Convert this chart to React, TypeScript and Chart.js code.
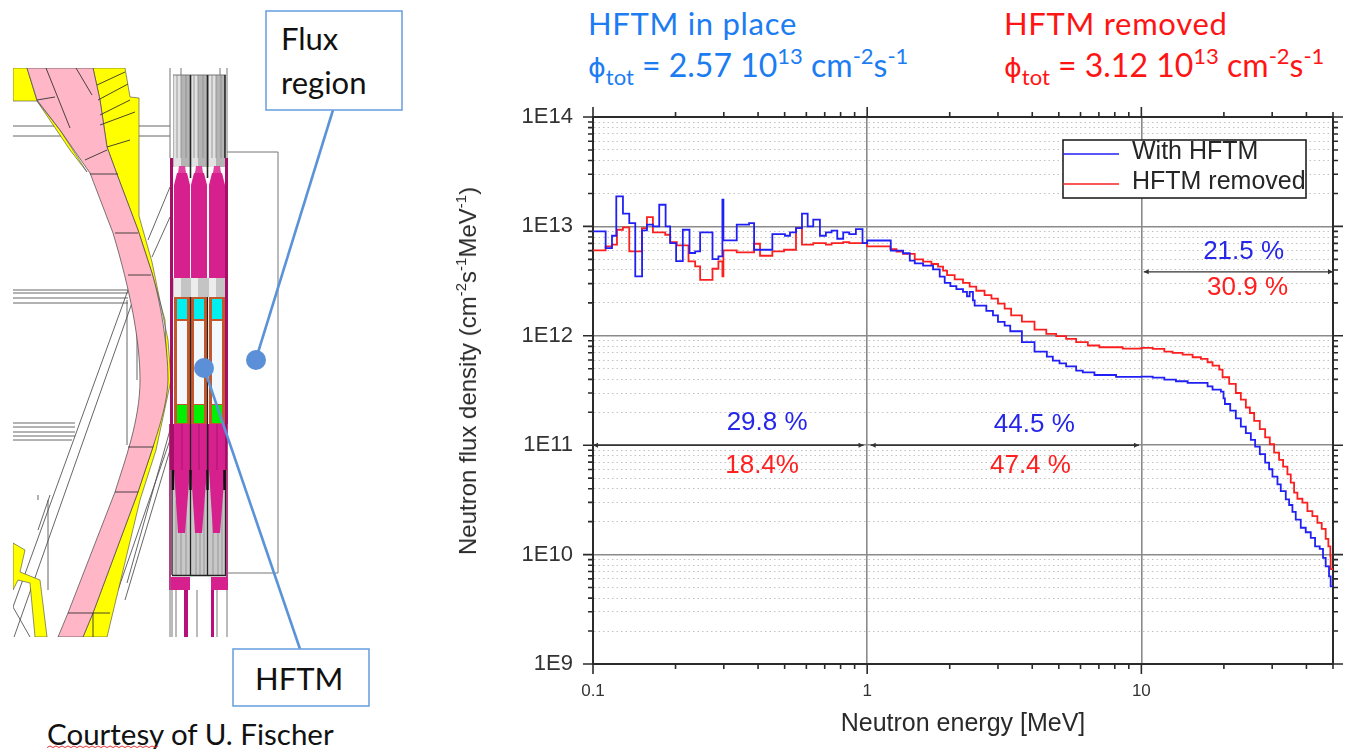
import React, { useEffect, useRef } from "react";
import { Chart, registerables } from "chart.js";

Chart.register(...registerables);

const blueEnergy = [0.1, 0.1112, 0.1173, 0.1216, 0.1286, 0.1356, 0.1426, 0.151, 0.1573, 0.1654, 0.1744, 0.184, 0.1912, 0.201, 0.2126, 0.2249, 0.2358, 0.2459, 0.2728, 0.2867, 0.2965, 0.299, 0.3344, 0.3709, 0.3868, 0.451, 0.5014, 0.523, 0.55, 0.5783, 0.6066, 0.6358, 0.6725, 0.7071, 0.7416, 0.7777, 0.8177, 0.86, 0.9094, 0.9616, 1.0, 1.219, 1.352, 1.43, 1.491, 1.599, 1.739, 1.839, 1.918, 2.011, 2.115, 2.236, 2.312, 2.365, 2.431, 2.466, 2.72, 2.876, 2.999, 3.172, 3.325, 3.667, 4.077, 4.522, 4.755, 5.029, 5.317, 5.783, 6.115, 6.744, 8.087, 10.0, 11.0, 12.13, 13.37, 14.75, 17.44, 18.18, 19.5, 19.94, 20.17, 21.09, 22.11, 23.06, 24.05, 25.08, 26.0, 27.04, 28.28, 29.24, 30.07, 31.36, 32.25, 33.63, 34.59, 35.56, 36.57, 38.14, 39.77, 41.48, 43.01, 44.72, 45.98, 47.02, 48.36, 49.03, 50];
const blueFlux = [9.0e12, 6.34e12, 8.21e12, 1.881e13, 1.306e13, 1.073e13, 3.49e12, 9.19e12, 1.036e13, 1.0e13, 1.578e13, 1.0e13, 7.04e12, 4.82e12, 9.32e12, 5.71e12, 5.9e12, 8.81e12, 5.02e12, 5.32e12, 1.753e13, 7.45e12, 1.036e13, 1.073e13, 6.12e12, 8.51e12, 8.21e12, 8.81e12, 9.65e12, 1.306e13, 1.0e13, 1.151e13, 8.21e12, 8.81e12, 9.13e12, 7.71e12, 8.81e12, 8.51e12, 9.45e12, 7.04e12, 7.43e12, 6.01e12, 5.68e12, 4.86e12, 4.6e12, 4.38e12, 4.05e12, 3.47e12, 3.05e12, 2.84e12, 2.67e12, 2.52e12, 2.3e12, 2.52e12, 2.11e12, 1.89e12, 1.69e12, 1.54e12, 1.34e12, 1.24e12, 1.1e12, 8.74e11, 7.17e11, 6.45e11, 5.93e11, 5.6e11, 5.26e11, 4.8e11, 4.63e11, 4.38e11, 4.22e11, 4.24e11, 4.15e11, 3.98e11, 3.84e11, 3.71e11, 3.45e11, 3.22e11, 3.09e11, 2.68e11, 2.38e11, 2.07e11, 1.76e11, 1.48e11, 1.29e11, 1.12e11, 9.72e10, 8.27e10, 6.93e10, 6.03e10, 5.16e10, 4.39e10, 3.81e10, 3.2e10, 2.84e10, 2.46e10, 2.09e10, 1.76e10, 1.6e10, 1.42e10, 1.19e10, 1.13e10, 9.32e9, 7.82e9, 6.33e9, 5.12e9, 5.12e9];

const redEnergy = [0.1, 0.1112, 0.1173, 0.1223, 0.1286, 0.1356, 0.1508, 0.1573, 0.1654, 0.1834, 0.1912, 0.2022, 0.223, 0.2358, 0.2459, 0.2728, 0.2867, 0.2965, 0.299, 0.3344, 0.3868, 0.4066, 0.451, 0.4973, 0.55, 0.5783, 0.6358, 0.7071, 0.7416, 0.8177, 0.86, 1.0, 1.216, 1.279, 1.352, 1.491, 1.599, 1.715, 1.813, 1.891, 1.956, 2.085, 2.236, 2.365, 2.5, 2.68, 2.84, 2.999, 3.172, 3.35, 3.667, 4.077, 4.5, 4.89, 5.317, 5.783, 6.38, 7.03, 8.55, 10.0, 11.0, 12.13, 13.0, 14.14, 15.38, 16.49, 17.44, 18.18, 19.23, 19.78, 20.91, 22.11, 23.06, 24.05, 24.87, 25.79, 27.04, 28.28, 29.41, 30.49, 31.79, 32.88, 34.1, 35.07, 36.06, 37.08, 38.67, 40.33, 42.05, 43.85, 45.48, 47.02, 48.09, 48.9, 49.03, 50];
const redFlux = [6.03e12, 6.56e12, 6.8e12, 9.32e12, 9.79e12, 5.9e12, 9.65e12, 1.217e13, 8.81e12, 8.39e12, 7.19e12, 6.7e12, 4.79e12, 4.31e12, 3.25e12, 4.1e12, 4.79e12, 3.49e12, 6.03e12, 5.78e12, 6.94e12, 5.39e12, 5.9e12, 6.12e12, 9.65e12, 6.8e12, 7.04e12, 6.8e12, 7.04e12, 7.19e12, 7.04e12, 6.56e12, 6.19e12, 5.89e12, 5.6e12, 5.0e12, 4.76e12, 4.53e12, 4.28e12, 3.94e12, 3.59e12, 3.28e12, 3.05e12, 2.81e12, 2.58e12, 2.35e12, 2.19e12, 1.97e12, 1.77e12, 1.54e12, 1.35e12, 1.14e12, 1.04e12, 9.93e11, 9.38e11, 8.74e11, 8.15e11, 7.86e11, 7.64e11, 7.76e11, 7.6e11, 7.18e11, 6.98e11, 6.74e11, 6.37e11, 6.15e11, 5.73e11, 5.34e11, 4.91e11, 4.18e11, 3.63e11, 3.0e11, 2.61e11, 2.21e11, 1.97e11, 1.67e11, 1.4e11, 1.18e11, 1.02e11, 8.57e10, 7.33e10, 6.37e10, 5.42e10, 4.55e10, 3.68e10, 3.24e10, 2.98e10, 2.5e10, 2.25e10, 1.95e10, 1.72e10, 1.39e10, 1.19e10, 9.65e9, 7.38e9, 7.38e9];

const xMajorTicks = [0.1, 1, 10];
const xMinorTicks = [0.2, 0.3, 0.4, 0.5, 0.6, 0.7, 0.8, 0.9, 2, 3, 4, 5, 6, 7, 8, 9, 20, 30, 40, 50];
const yMajorTicks = [1e9, 1e10, 1e11, 1e12, 1e13, 1e14];
const yMajorLabels = ["1E9", "1E10", "1E11", "1E12", "1E13", "1E14"];
const yMinorFactors = [2, 3, 4, 5, 6, 7, 8, 9];
const seriesNames = ["With HFTM", "HFTM removed"];

const percentNotes = [
  { text: "29.8 %", color: "#2626e8", energy: 0.4315, flux: 1.6e11 },
  { text: "18.4%", color: "#ff2020", energy: 0.4137, flux: 6.5e10 },
  { text: "44.5 %", color: "#2626e8", energy: 4.07, flux: 1.55e11 },
  { text: "47.4 %", color: "#ff2020", energy: 3.94, flux: 6.5e10 },
  { text: "21.5 %", color: "#2626e8", energy: 23.6, flux: 5.85e12 },
  { text: "30.9 %", color: "#ff2020", energy: 24.4, flux: 2.74e12 },
];
const rangeArrows = [
  { from: 0.1, to: 0.97, flux: 1e11 },
  { from: 1.03, to: 9.8, flux: 1e11 },
  { from: 10.2, to: 50, flux: 3.84e12 },
];

const SANS = '"Liberation Sans", Arial, sans-serif';
const CALIBRI = 'Lato, "Open Sans", sans-serif';

const minorY = yMajorTicks.slice(0, -1).flatMap((d) => yMinorFactors.map((f) => f * d));
const xTickList = () =>
  [...xMajorTicks.map((value) => ({ value, major: true })), ...xMinorTicks.map((value) => ({ value, major: false }))].sort((a, b) => a.value - b.value);
const yTickList = () =>
  [...yMajorTicks.map((value) => ({ value, major: true })), ...minorY.map((value) => ({ value, major: false }))].sort((a, b) => a.value - b.value);

const marksPlugin = {
  id: "marks",
  afterDatasetsDraw(chart: any) {
    const { ctx, scales, chartArea } = chart;
    const { x, y } = scales;
    ctx.save();
    ctx.strokeStyle = "#2b2b2b";
    ctx.lineWidth = 1.6;
    ctx.beginPath();
    for (const t of x.ticks) {
      const px = x.getPixelForValue(t.value);
      const len = t.major ? 10 : 5;
      ctx.moveTo(px, chartArea.bottom);
      ctx.lineTo(px, chartArea.bottom + len);
      ctx.moveTo(px, chartArea.top);
      ctx.lineTo(px, chartArea.top - len);
    }
    for (const t of y.ticks) {
      const py = y.getPixelForValue(t.value);
      const len = t.major ? 10 : 5;
      ctx.moveTo(chartArea.left, py);
      ctx.lineTo(chartArea.left - len, py);
      ctx.moveTo(chartArea.right, py);
      ctx.lineTo(chartArea.right + len, py);
    }
    ctx.stroke();

    ctx.strokeStyle = "#333";
    ctx.fillStyle = "#333";
    ctx.lineWidth = 1.4;
    for (const a of rangeArrows) {
      const x0 = x.getPixelForValue(a.from);
      const x1 = x.getPixelForValue(a.to);
      const py = y.getPixelForValue(a.flux);
      ctx.beginPath();
      ctx.moveTo(x0, py);
      ctx.lineTo(x1, py);
      ctx.stroke();
      ctx.beginPath();
      ctx.moveTo(x0, py);
      ctx.lineTo(x0 + 5, py - 2.5);
      ctx.lineTo(x0 + 5, py + 2.5);
      ctx.closePath();
      ctx.moveTo(x1, py);
      ctx.lineTo(x1 - 5, py - 2.5);
      ctx.lineTo(x1 - 5, py + 2.5);
      ctx.closePath();
      ctx.fill();
    }

    ctx.font = `26px ${SANS}`;
    ctx.textAlign = "center";
    ctx.textBaseline = "middle";
    for (const n of percentNotes) {
      ctx.fillStyle = n.color;
      ctx.fillText(n.text, x.getPixelForValue(n.energy), y.getPixelForValue(n.flux));
    }

    const bx = chartArea.right - 270;
    const by = chartArea.top + 23;
    const bw = 243;
    const bh = 58;
    ctx.fillStyle = "#fff";
    ctx.fillRect(bx, by, bw, bh);
    ctx.strokeStyle = "#222";
    ctx.lineWidth = 1.6;
    ctx.strokeRect(bx, by, bw, bh);
    ctx.font = `25px ${SANS}`;
    ctx.textAlign = "left";
    chart.data.datasets.forEach((ds: any, i: number) => {
      const py = by + 14 + i * 30;
      ctx.strokeStyle = ds.borderColor;
      ctx.beginPath();
      ctx.moveTo(bx, py);
      ctx.lineTo(bx + 56, py);
      ctx.stroke();
      ctx.fillStyle = "#262626";
      ctx.fillText(ds.label, bx + 69, py - 2);
    });
    ctx.restore();
  },
};

const PINK_PATH =
  "M27 68 H93 L100 100 L107 147 L118 177 L138 230 L152 273 C160 300 168 345 168 380 C167 410 155 440 138 492 L93 613 L83 637 H58 L68 613 L115 492 C125 460 140 420 140 380 C140 340 130 290 113 233 L90 173 L60 130 L37 100 Z";

function Diagram() {
  const lineC = "#555";
  const cellXs = [174, 191, 209];
  return (
    <svg width={420} height={749} style={{ position: "absolute", left: 0, top: 0 }}>
      <defs>
        <clipPath id="cad"><rect x={13} y={68} width={230} height={569} /></clipPath>
      </defs>
      <g clipPath="url(#cad)">
        <g stroke={lineC} strokeWidth={0.9} fill="none">
          <path d="M13 126H170M13 136H170M13 290H128M13 293H128M13 298H128M13 303H128" />
          <path d="M13 423H75M13 427H75M13 432H75M13 436H75M13 440H72" />
          <path d="M127 300V445M137 300V380M148 240L170 187M152 257L170 217" />
          <path d="M128 290L13 607M133 300L13 640M170 430L127 583M170 440L118 590M170 450L125 600" />
          <path d="M38 495L38 500M38 530L50 495M48 500V590M13 607L30 637" />
        </g>
        <polygon fill="#ffff00" stroke="#444" strokeWidth={0.6} points="13,68 27,68 37,101 13,101" />
        <polygon fill="#ffff00" stroke="#444" strokeWidth={0.6} points="37,101 60,130 87,172 70,150" />
        <polygon fill="#ffff00" stroke="#444" strokeWidth={0.6} points="93,68 125,68 130,97 139,98 139,216 152,262 168,340 171,380 156,450 140,500 107,637 83,637 93,613 138,492 153,447 167,380 165,320 152,273 138,230 118,177 107,147 100,100" />
        <polygon fill="#ffff00" stroke="#444" strokeWidth={0.6} points="13,543 25,550 20,572 40,580 47,637 35,637 30,583 18,580 13,590" />
        <path d={PINK_PATH} fill="#ffb6c6" stroke="#444" strokeWidth={0.7} />
        <g stroke="#333" strokeWidth={0.9} fill="none">
          <path d="M46 68L70 128M76 68L92 95M37 100L55 97M85 160L107 150M90 174H118M115 233H138M128 275H151" />
          <path d="M128 447H153M115 492H138M68 613H110M93 613V637" />
          <path d="M97 85L125 72M98 100L128 84M100 115L130 100M100 125L135 112M107 147L130 140" />
        </g>

        {/* blanket column */}
        <rect x={173} y={75} width={52} height={92} fill="#b4b4b4" />
        {cellXs.map((x) => (
          <g key={`w${x}`}>
            <rect x={x} y={75} width={7} height={92} fill="#e2e2e2" />
            <path d={`M${x + 3} 75V158M${x + 7} 75V158M${x + 12} 75V158`} stroke="#8a8a8a" strokeWidth={0.8} />
          </g>
        ))}
        <path d="M170 68V158M181 68V75M220 68V75M227 68V158M173 75H226" stroke="#777" strokeWidth={1} fill="none" />
        <path d="M190.5 75V178M207.5 75V178M225 75V158" stroke="#222" strokeWidth={1.6} fill="none" />
        <rect x={170} y={158} width={3} height={120} fill="#a50f68" />
        <rect x={225} y={158} width={3} height={120} fill="#a50f68" />
        {cellXs.map((x) => (
          <g key={`m${x}`}>
            <polygon fill="#d6208e" points={`${x + 3},173 ${x + 13},173 ${x + 16},185 ${x + 16},278 ${x},278 ${x},185`} />
            <polygon fill="#e0409e" points={`${x + 4},173 ${x + 5},166 ${x + 11},166 ${x + 12},173`} />
          </g>
        ))}
        <rect x={173} y={278} width={52} height={19} fill="#c4c4c4" />
        {cellXs.map((x) => (
          <rect key={`g${x}`} x={x} y={278} width={7} height={19} fill="#ececec" />
        ))}
        <rect x={170} y={278} width={3} height={146} fill="#a50f68" />
        <rect x={225} y={278} width={3} height={146} fill="#a50f68" />
        {cellXs.map((x) => (
          <g key={`c${x}`}>
            <rect x={x} y={297} width={16} height={127} fill="#c2582c" />
            <rect x={x + 3} y={321} width={10} height={83} fill="#f2f8fc" />
            <rect x={x + 3} y={299} width={10} height={20} fill="#00f0f0" />
            <rect x={x + 3} y={405} width={10} height={18} fill="#00f000" />
          </g>
        ))}
        <path d="M190.5 297V424M207.5 297V424" stroke="#222" strokeWidth={1.2} />
        <rect x={172} y={470} width={53} height={105} fill="#c8c8c8" />
        <path d="M176 500V575M181 530V575M186 500V575M196 500V575M200 530V575M204 500V575M213 500V575M218 530V575M222 500V575" stroke="#8c8c8c" strokeWidth={0.8} />
        <rect x={170} y={424} width={57} height={46} fill="#a50f68" />
        {cellXs.map((x) => (
          <g key={`t${x}`}>
            <rect x={x} y={424} width={16} height={46} fill="#d6208e" />
            <polygon fill="#d6208e" points={`${x},470 ${x + 16},470 ${x + 11},533 ${x + 4},533`} />
            <path d={`M${x + 8} 424V470`} stroke="#9c0f62" strokeWidth={0.8} />
          </g>
        ))}
        <path d="M190.5 424V575M207.5 424V575M172 470V575M225.5 470V575" stroke="#222" strokeWidth={1.3} fill="none" />
        <path d="M190.5 470V490M207.5 470V490M173 470V490M224.5 470V490" stroke="#111" strokeWidth={2.5} fill="none" />
        <path d="M172 575.5H226" stroke="#222" strokeWidth={1.5} />
        <path d="M227 424V590M170 424V590" stroke="#a50f68" strokeWidth={1.6} fill="none" />
        <rect x={171} y={577} width={19} height={13} fill="#d6208e" />
        <rect x={211} y={577} width={17} height={13} fill="#d6208e" />
        <rect x={184} y={590} width={4} height={47} fill="#b8107a" />
        <rect x={211} y={590} width={3} height={47} fill="#b8107a" />
        <path d="M170 590V637M197 590V637M217 590V637M227 590V637M176 590V637M172 590V637" stroke="#777" strokeWidth={1} fill="none" />
      </g>

      <path d="M227 152H278V573H227" fill="none" stroke="#777" strokeWidth={1} />

      <line x1={333} y1={110} x2={256} y2={359} stroke="#5b93d8" strokeWidth={2.6} />
      <circle cx={256} cy={360} r={10} fill="#5b8fd8" />
      <line x1={204} y1={368} x2={300} y2={649} stroke="#5b93d8" strokeWidth={2.6} />
      <circle cx={204} cy={368} r={10} fill="#5b8fd8" />
      <rect x={266} y={11} width={136} height={99} fill="#fff" stroke="#6ea3e2" strokeWidth={1.6} />
      <rect x={233} y={649} width={136} height={57} fill="#fff" stroke="#6ea3e2" strokeWidth={1.6} />
      <g fontFamily={CALIBRI} fill="#111">
        <text x={281} y={50} fontSize={31}>Flux</text>
        <text x={281} y={94} fontSize={31}>region</text>
        <text x={255} y={690} fontSize={31}>HFTM</text>
        <text x={47} y={745} fontSize={29.5}>Courtesy of U. Fischer</text>
      </g>
      <path d="M47 747.5l3 -1.5l3 1.5l3 -1.5l3 1.5l3 -1.5l3 1.5l3 -1.5l3 1.5l3 -1.5l3 1.5l3 -1.5l3 1.5l3 -1.5l3 1.5l3 -1.5l3 1.5l3 -1.5l3 1.5l3 -1.5l3 1.5l3 -1.5l3 1.5l3 -1.5l3 1.5l3 -1.5l3 1.5l3 -1.5l3 1.5l3 -1.5l3 1.5l3 -1.5l3 1.5l3 -1.5l3 1.5l3 -1.5l3 1.5l3 -1.5" fill="none" stroke="#e02020" strokeWidth={0.9} />
    </svg>
  );
}

function Heading({ left, color, title, flux }: { left: number; color: string; title: string; flux: string }) {
  const base: React.CSSProperties = { position: "absolute", left, whiteSpace: "nowrap", color, fontFamily: CALIBRI, lineHeight: 1 };
  const sup: React.CSSProperties = { fontSize: 22, position: "relative", top: -13 };
  return (
    <>
      <div style={{ ...base, top: 8, fontSize: 31, letterSpacing: 0.7 }}>{title}</div>
      <div style={{ ...base, top: 49, fontSize: 32 }}>
        <span style={{ fontFamily: '"DejaVu Sans"', fontSize: 27 }}>ϕ</span>
        <span style={{ fontSize: 22, position: "relative", top: 8 }}>tot</span>
        {` = ${flux} 10`}
        <span style={sup}>13</span>
        {" cm"}
        <span style={sup}>-2</span>
        s
        <span style={sup}>-1</span>
      </div>
    </>
  );
}

export default function App() {
  const ref = useRef<HTMLCanvasElement>(null);

  useEffect(() => {
    const toPoints = (xs: number[], ys: number[]) => xs.map((x, i) => ({ x, y: ys[i] }));
    const common = { type: "logarithmic" as const };
    const chart = new Chart(ref.current as HTMLCanvasElement, {
      type: "line",
      data: {
        datasets: [
          { label: seriesNames[0], data: toPoints(blueEnergy, blueFlux), borderColor: "#2020f5", borderWidth: 1.8, pointRadius: 0, stepped: "before", fill: false, xAxisID: "x", yAxisID: "y" },
          { label: seriesNames[1], data: toPoints(redEnergy, redFlux), borderColor: "#fa2020", borderWidth: 1.8, pointRadius: 0, stepped: "before", fill: false, xAxisID: "x", yAxisID: "y" },
        ],
      },
      options: {
        animation: false,
        responsive: false,
        devicePixelRatio: 1,
        layout: { padding: 0 },
        plugins: { legend: { display: false }, tooltip: { enabled: false } },
        scales: {
          x: {
            ...common,
            min: 0.1,
            max: 50,
            position: "bottom",
            afterBuildTicks: (s: any) => { s.ticks = xTickList(); },
            afterFit: (s: any) => { s.height = 85; },
            ticks: {
              autoSkip: false,
              maxRotation: 0,
              padding: 17,
              color: "#333",
              font: { family: SANS, size: 17 },
              callback: (v: any) => (xMajorTicks.includes(Number(v)) ? String(v) : ""),
            },
            grid: {
              drawTicks: false,
              lineWidth: 1.6,
              color: (c: any) => (c.tick?.major ? "#8a8a8a" : "rgba(0,0,0,0)"),
            },
            border: { color: "#2b2b2b", width: 2 },
            title: { display: true, text: "Neutron energy [MeV]", color: "#2a2a2a", font: { family: SANS, size: 25 }, padding: { top: 0, bottom: 10 } },
          },
          xTop: {
            ...common,
            axis: "x",
            min: 0.1,
            max: 50,
            position: "top",
            afterFit: (s: any) => { s.height = 37; },
            ticks: { display: false },
            grid: { display: false },
            border: { color: "#2b2b2b", width: 2 },
          },
          y: {
            ...common,
            min: 1e9,
            max: 1e14,
            position: "left",
            afterBuildTicks: (s: any) => { s.ticks = yTickList(); },
            afterFit: (s: any) => { s.width = 153; },
            ticks: {
              autoSkip: false,
              padding: 20,
              color: "#333",
              font: { family: SANS, size: 22 },
              callback: (v: any) => {
                const i = yMajorTicks.indexOf(Number(v));
                return i >= 0 ? yMajorLabels[i] : "";
              },
            },
            grid: {
              drawTicks: false,
              lineWidth: (c: any) => (c.tick?.major ? 1.6 : 1),
              color: (c: any) => (c.tick?.major ? "#8a8a8a" : "#c2c2c2"),
            },
            border: {
              color: "#2b2b2b",
              width: 2,
              dash: (c: any) => (c.tick?.major ? [] : [1.5, 3]),
            },
          },
          yRight: {
            ...common,
            axis: "y",
            min: 1e9,
            max: 1e14,
            position: "right",
            afterFit: (s: any) => { s.width = 21; },
            ticks: { display: false },
            grid: { display: false },
            border: { color: "#2b2b2b", width: 2 },
          },
        },
      } as any,
      plugins: [marksPlugin],
    } as any);
    return () => chart.destroy();
  }, []);

  return (
    <div style={{ position: "fixed", left: 0, top: 0, width: 1354, height: 749, overflow: "hidden", background: "#fff", filter: "blur(0.4px)" }}>
      <Diagram />
      <Heading left={588} color="#1c7cf2" title="HFTM in place" flux="2.57" />
      <Heading left={1004} color="#ff1414" title="HFTM removed" flux="3.12" />
      <canvas ref={ref} width={914} height={669} style={{ position: "absolute", left: 440, top: 80, display: "block" }} />
      <div
        style={{
          position: "absolute",
          left: 468,
          top: 371,
          transform: "translate(-50%, -50%) rotate(-90deg)",
          whiteSpace: "nowrap",
          fontFamily: SANS,
          fontSize: 24,
          color: "#2a2a2a",
          lineHeight: 1,
        }}
      >
        Neutron flux density (cm<span style={{ fontSize: 15, position: "relative", top: -10 }}>-2</span>s<span style={{ fontSize: 15, position: "relative", top: -10 }}>-1</span>MeV<span style={{ fontSize: 15, position: "relative", top: -10 }}>-1</span>)
      </div>
    </div>
  );
}
